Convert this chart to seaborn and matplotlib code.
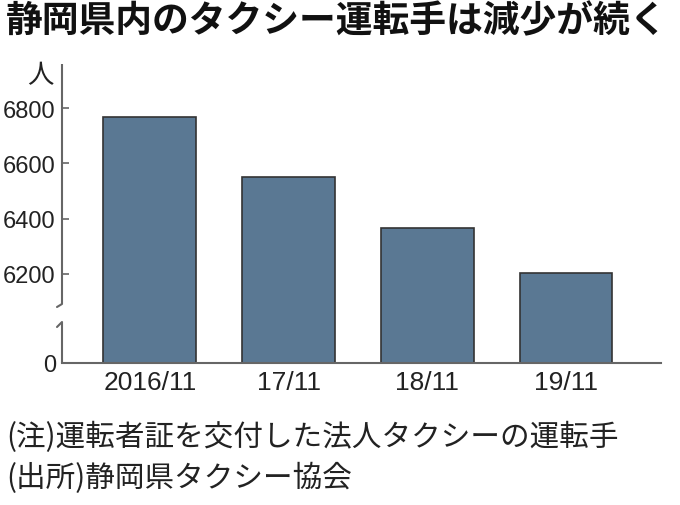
import numpy as np
import pandas as pd
import matplotlib
matplotlib.use("Agg")
import matplotlib.pyplot as plt
import matplotlib.transforms as mtransforms
import seaborn as sns

# Data
months = ["2016/11", "17/11", "18/11", "19/11"]
drivers = [6767, 6550, 6365, 6205]
y_ticks = [0, 6200, 6400, 6600, 6800]

title = "静岡県内のタクシー運転手は減少が続く"
unit = "人"
note = "(注)運転者証を交付した法人タクシーの運転手"
source = "(出所)静岡県タクシー協会"

BAR_COLOR = "#5a7893"
EDGE_COLOR = "#333333"
AXIS_COLOR = "#666666"
NUM_FONT = "Liberation Sans"

sns.set_theme(style="white")
plt.rcParams['font.family'] = ['Noto Sans CJK JP', 'DejaVu Sans']

# broken y axis: 0..6000 squeezed into a short strip, 6000 and up at full scale
PX_PER_UNIT = 0.2765
Y_REF, PX_REF = 6200, 89.0
T = 6000
PX_T = PX_REF + (T - Y_REF) * PX_PER_UNIT


def fwd(y):
    y = np.asarray(y, dtype=float)
    return np.where(y >= T, PX_REF + (y - Y_REF) * PX_PER_UNIT, y * PX_T / T)


def inv(p):
    p = np.asarray(p, dtype=float)
    return np.where(p >= PX_T, Y_REF + (p - PX_REF) / PX_PER_UNIT, p * T / PX_T)


df = pd.DataFrame({"month": months, "drivers": drivers})

fig = plt.figure(figsize=(6.8, 5.06), dpi=100)
ax = fig.add_axes([62 / 680, 1 - 364 / 506, (661 - 62) / 680, (364 - 65) / 506])

sns.barplot(data=df, x="month", y="drivers", color=BAR_COLOR, saturation=1,
            edgecolor=EDGE_COLOR, linewidth=1.2, width=0.67, ax=ax)

ax.set_yscale("function", functions=(fwd, inv))
ax.set_ylim(0, float(inv(299)))
ax.set_xlim(-0.634, 3.685)
ax.set_yticks(y_ticks)
ax.set_yticklabels([str(v) for v in y_ticks])
ax.set_xlabel("")
ax.set_ylabel("")

for s in ["top", "right", "left"]:
    ax.spines[s].set_visible(False)
ax.spines["bottom"].set_color(AXIS_COLOR)
ax.spines["bottom"].set_linewidth(1.5)

ax.tick_params(axis="y", direction="in", length=5, width=1.2, color=AXIS_COLOR,
               pad=4.5, labelsize=17, left=True)
ax.tick_params(axis="x", length=0, pad=5, labelsize=19)
for lab in ax.get_xticklabels() + ax.get_yticklabels():
    lab.set_fontfamily(NUM_FONT)
    lab.set_color("#222222")

# left spine drawn in two pieces with break marks
tr = mtransforms.blended_transform_factory(ax.transAxes, ax.transData)
dx = 5 / 599
ax.plot([0, 0], [inv(59), inv(299)], transform=tr, color=AXIS_COLOR, lw=1.5,
        clip_on=False, solid_capstyle="butt")
ax.plot([0, 0], [0, inv(41)], transform=tr, color=AXIS_COLOR, lw=1.5,
        clip_on=False, solid_capstyle="butt")
ax.plot([0, -dx], [inv(59), inv(56)], transform=tr, color=AXIS_COLOR, lw=1.5, clip_on=False)
ax.plot([0, -dx], [inv(41), inv(36)], transform=tr, color=AXIS_COLOR, lw=1.5, clip_on=False)

fig.text(6 / 680, 1 - 22 / 506, title, fontsize=26.5, fontweight="bold",
         va="center", ha="left", color="#111111")
fig.text(40 / 680, 1 - 76 / 506, unit, fontsize=19, va="center", ha="center", color="#222222")
fig.text(6 / 680, 1 - 437 / 506, note, fontsize=21.3, va="center", ha="left", color="#222222")
fig.text(6 / 680, 1 - 478 / 506, source, fontsize=21.3, va="center", ha="left", color="#222222")

fig.savefig("out.png", dpi=100, facecolor="white")
